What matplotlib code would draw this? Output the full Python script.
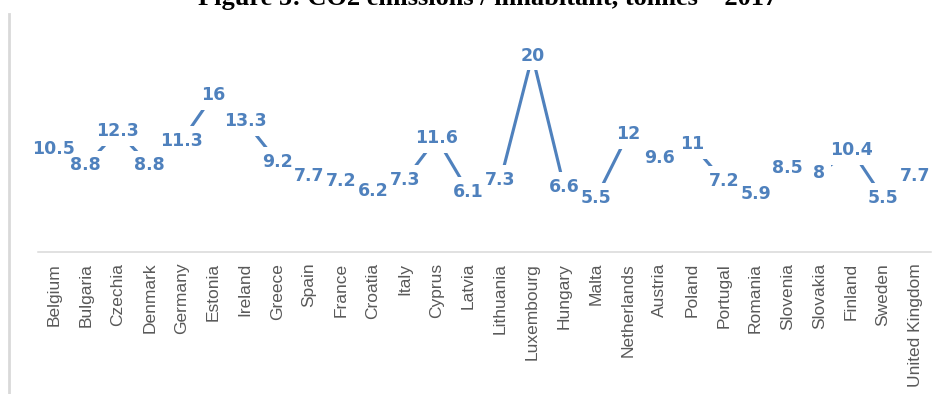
import matplotlib
matplotlib.use("Agg")
from matplotlib import pyplot as plt
from matplotlib.lines import Line2D
from matplotlib.patches import Rectangle
import numpy as np

countries = ["Belgium", "Bulgaria", "Czechia", "Denmark", "Germany", "Estonia",
             "Ireland", "Greece", "Spain", "France", "Croatia", "Italy", "Cyprus",
             "Latvia", "Lithuania", "Luxembourg", "Hungary", "Malta", "Netherlands",
             "Austria", "Poland", "Portugal", "Romania", "Slovenia", "Slovakia",
             "Finland", "Sweden", "United Kingdom"]
emissions = [10.5, 8.8, 12.3, 8.8, 11.3, 16, 13.3, 9.2, 7.7, 7.2, 6.2, 7.3, 11.6,
             6.1, 7.3, 20, 6.6, 5.5, 12, 9.6, 11, 7.2, 5.9, 8.5, 8, 10.4, 5.5, 7.7]
title = "Figure 5: CO2 emissions / inhabitant, tonnes \u2013 2017"

blue = "#4f81bd"
grey = "#d9d9d9"

W, H = 945, 394
fig = plt.figure(figsize=(W / 100, H / 100), dpi=100)

# plot area in pixel terms: x from 38 to 931, y=0 at 251.7, y=25 at 6.8
ax = fig.add_axes([38 / W, (H - 251.7) / H, 893 / W, 244.9 / H])
x = np.arange(len(countries))
ax.plot(x, emissions, color=blue, lw=2.25, zorder=2, solid_capstyle="butt")

# value labels sit on the points
labels = []
for xi, v in zip(x, emissions):
    t = ax.text(xi, v, "%g" % v, ha="center", va="center", fontsize=12.5,
                fontweight="bold", color=blue, family="DejaVu Sans", zorder=4,
                clip_on=False)
    labels.append(t)

ax.set_xlim(-0.5, len(countries) - 0.5)
ax.set_ylim(0, 25)
ax.set_xticks(x)
ax.set_xticklabels(countries, rotation=90, fontsize=12.5, color="#595959",
                   family="Liberation Sans", va="top")
ax.tick_params(axis="x", length=0, pad=8)
ax.set_yticks([])
for s in ["left", "right", "top"]:
    ax.spines[s].set_visible(False)
ax.spines["bottom"].set_color(grey)
ax.spines["bottom"].set_linewidth(1.1)

# white boxes behind every label hide the line, but never another label
fig.canvas.draw()
pad = 5.7
inv = fig.transFigure.inverted()
for t in labels:
    bb = t.get_window_extent()
    (x0, y0), (x1, y1) = inv.transform([[bb.x0 - pad, bb.y0 - pad],
                                        [bb.x1 + pad, bb.y1 + pad]])
    ax.add_patch(Rectangle((x0, y0), x1 - x0, y1 - y0, transform=fig.transFigure,
                           fc="white", ec="none", zorder=3, clip_on=False))

# chart border on the left
fig.add_artist(Line2D([9.5 / W, 9.5 / W], [0, 1 - 14 / H], color=grey, lw=2))

# title runs off the top edge
fig.text(488 / W, 1 - 5 / H, title, ha="center", va="baseline", fontsize=19,
         fontweight="bold", family="Liberation Serif", color="black")

fig.savefig("out.png", dpi=100)
